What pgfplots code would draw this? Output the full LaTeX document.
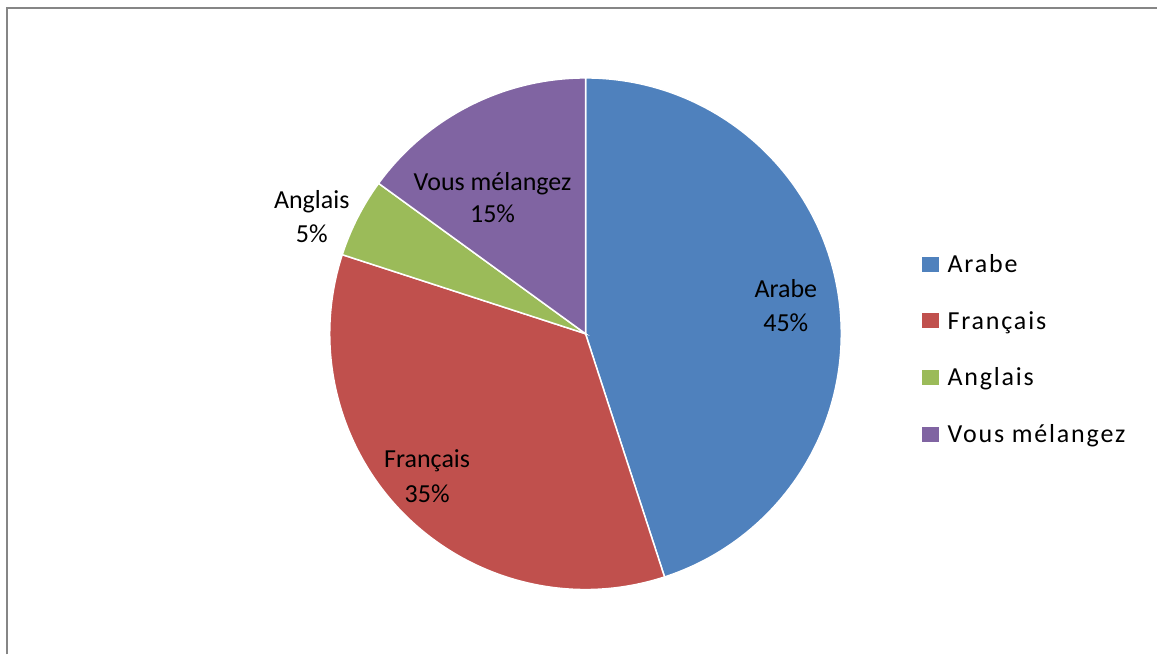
\documentclass[border=0pt]{standalone}
\usepackage{pgfplots}
\pgfplotsset{compat=1.18}
\usepackage{pgfplotstable}
\usepackage{fontspec}
\setmainfont{Carlito}

\definecolor{c0}{HTML}{4F81BD}
\definecolor{c1}{HTML}{C0504D}
\definecolor{c2}{HTML}{9BBB59}
\definecolor{c3}{HTML}{8064A2}
\definecolor{framegray}{HTML}{868686}

% language shares, in percent
\pgfplotstableread[col sep=comma]{
label,value
Arabe,45
Français,35
Anglais,5
Vous mélangez,15
}\sharetable

\begin{document}
\begin{tikzpicture}
\begin{axis}[
  width=579pt, height=327.5pt, scale only axis,
  xmin=0, xmax=1158, ymin=0, ymax=655,
  y dir=reverse,
  hide axis, clip=false,
  font=\fontsize{13}{15.6}\selectfont
]
\path (axis cs:0,0) (axis cs:1158,655);
% chart frame
\draw[framegray, line width=1pt] (axis cs:7.5,655) -- (axis cs:7.5,8.5) -- (axis cs:1158,8.5);

% slices, clockwise from 12 o'clock
\def\cum{0}
\pgfplotsforeachungrouped \i in {0,...,3}{
  \pgfplotstablegetelem{\i}{value}\of\sharetable
  \let\v\pgfplotsretval
  \pgfmathsetmacro\sa{90-3.6*\cum}
  \pgfmathsetmacro\ea{90-3.6*(\cum+\v)}
  \edef\temp{\noexpand\filldraw[fill=c\i, draw=white, line width=0.75pt]
    (axis cs:586,334) -- ++(\sa:128pt)
    arc[start angle=\sa, end angle=\ea, radius=128pt] -- cycle;}
  \temp
  \pgfmathsetmacro\cum{\cum+\v}
}

% data labels
\node[anchor=base] at (axis cs:786.5,298) {Arabe};
\node[anchor=base] at (axis cs:786.5,331.5) {45\%};
\node[anchor=base] at (axis cs:427.5,468) {Français};
\node[anchor=base] at (axis cs:427.5,503) {35\%};
\node[anchor=base] at (axis cs:312,209) {Anglais};
\node[anchor=base] at (axis cs:312,243) {5\%};
\node[anchor=base] at (axis cs:493,191) {Vous mélangez};
\node[anchor=base] at (axis cs:493,223) {15\%};

% legend
\fill[c0] (axis cs:923,257) rectangle (axis cs:940,272);
\fill[c1] (axis cs:923,313.5) rectangle (axis cs:940,328.5);
\fill[c2] (axis cs:923,370) rectangle (axis cs:940,385);
\fill[c3] (axis cs:923,427) rectangle (axis cs:940,442);
\begingroup
\addfontfeatures{LetterSpace=7}
\node[anchor=base west, inner sep=0pt] at (axis cs:948,273) {\addfontfeatures{LetterSpace=7}Arabe};
\node[anchor=base west, inner sep=0pt] at (axis cs:948,329.5) {\addfontfeatures{LetterSpace=7}Français};
\node[anchor=base west, inner sep=0pt] at (axis cs:948,386) {\addfontfeatures{LetterSpace=7}Anglais};
\node[anchor=base west, inner sep=0pt] at (axis cs:948,443) {\addfontfeatures{LetterSpace=7}Vous mélangez};
\endgroup
\end{axis}
\end{tikzpicture}
\end{document}
